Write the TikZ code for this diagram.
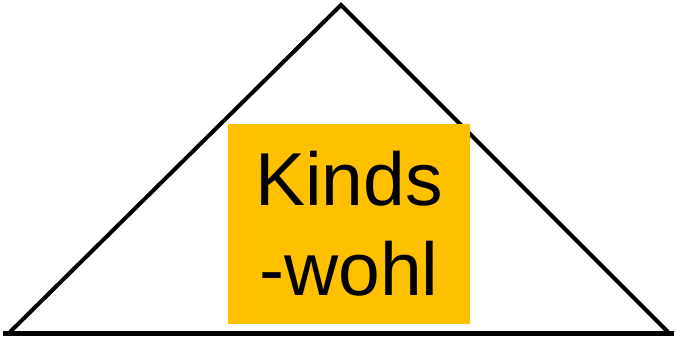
\documentclass[tikz,border=0pt]{standalone}
\usepackage{fontspec}
\setmainfont{Liberation Sans}
\usepackage{xcolor}
\definecolor{boxgold}{HTML}{FFC000}

\begin{document}
\begin{tikzpicture}[x=1pt,y=-1pt]
  \useasboundingbox (0,0) rectangle (676,339);
  \coordinate (apex) at (341,5);
  \coordinate (left) at (10,332);
  \coordinate (right) at (668,332);
  \draw[line width=4pt, line join=miter] (left) -- (apex) -- (right);
  \draw[line width=5pt] (3,333) -- (674,333);
  \node (kindswohl) [fill=boxgold, minimum width=242pt, minimum height=200pt,
    inner sep=0pt, align=center, font=\fontsize{75}{90}\selectfont]
    at (349,224) {Kinds\\-wohl};
\end{tikzpicture}
\end{document}
